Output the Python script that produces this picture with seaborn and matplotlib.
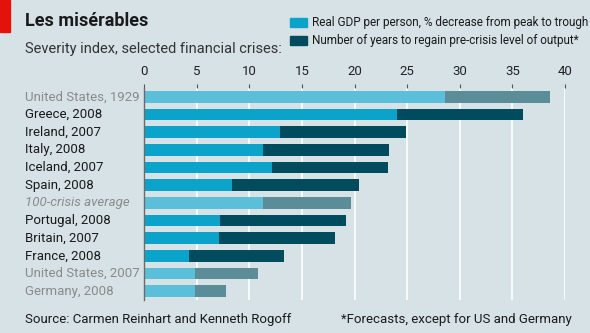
import matplotlib
matplotlib.use("Agg")
import matplotlib.pyplot as plt
import seaborn as sns
import pandas as pd
from matplotlib.patches import Rectangle

labels = ["United States, 1929", "Greece, 2008", "Ireland, 2007", "Italy, 2008",
          "Iceland, 2007", "Spain, 2008", "100-crisis average", "Portugal, 2008",
          "Britain, 2007", "France, 2008", "United States, 2007", "Germany, 2008"]
gdp_decrease = [28.6, 24.0, 12.9, 11.3, 12.2, 8.4, 11.3, 7.2, 7.1, 4.3, 4.8, 4.8]
years_to_regain = [10, 12, 12, 12, 11, 12, 8.4, 12, 11, 9, 6, 3]
muted = [True, False, False, False, False, False, True, False, False, False, True, True]
xticks = [0, 5, 10, 15, 20, 25, 30, 35, 40]

BG = "#d7e2e7"
BRIGHT = "#0ba3ca"
DARK = "#004b5d"
BRIGHT_M = "#5cbfd9"
DARK_M = "#5b8d98"

sns.set_theme(style="white")
plt.rcParams['font.family'] = ['Roboto', 'DejaVu Sans']

df = pd.DataFrame({"label": labels, "gdp": gdp_decrease,
                   "total": [g + y for g, y in zip(gdp_decrease, years_to_regain)]})

fig = plt.figure(figsize=(5.9, 3.33), dpi=100, facecolor=BG)
ax = fig.add_axes([144/590, 1-300/333, (565-144)/590, (300-88)/333])
ax.set_facecolor(BG)

pal_total = {l: (DARK_M if m else DARK) for l, m in zip(labels, muted)}
pal_gdp = {l: (BRIGHT_M if m else BRIGHT) for l, m in zip(labels, muted)}

for xt in xticks:
    ax.axvline(xt, color="white", lw=1.2, zorder=0)

sns.barplot(data=df, x="total", y="label", hue="label", palette=pal_total,
            legend=False, width=0.66, ax=ax, saturation=1, zorder=2, linewidth=0)
sns.barplot(data=df, x="gdp", y="label", hue="label", palette=pal_gdp,
            legend=False, width=0.66, ax=ax, saturation=1, zorder=3, linewidth=0)

ax.set_xlim(0, 40)
ax.set_ylim(11.5, -0.5)
ax.set_xlabel("")
ax.set_ylabel("")
for s in ["top", "right", "bottom"]:
    ax.spines[s].set_visible(False)
ax.spines["left"].set_color("#6b6b6b")
ax.spines["left"].set_linewidth(1.0)
ax.spines["left"].set_zorder(5)

ax.xaxis.tick_top()
ax.set_xticks(xticks)
ax.set_xticklabels([str(x) for x in xticks], fontsize=9.5, color="#222222")
ax.tick_params(axis="x", length=3, width=0.8, color="#555555", pad=4)
ax.tick_params(axis="y", length=0)
ax.set_yticklabels([])

for i, (lab, m) in enumerate(zip(labels, muted)):
    style = "italic" if lab.startswith("100") else "normal"
    col = "#8a8a8a" if m else "#1a1a1a"
    ax.text(-119/10.525, i, lab, ha="left", va="center", fontsize=9.5,
            color=col, style=style, transform=ax.transData, clip_on=False)

# Header
fig.patches.append(Rectangle((0, 1-32/333), 10/590, 32/333, transform=fig.transFigure,
                             color="#e3120b", zorder=5))
fig.text(25/590, 1-26/333, "Les misérables", fontsize=13, fontweight="bold",
         color="#1a1a1a", va="baseline")
fig.text(25/590, 1-53/333, "Severity index, selected financial crises:", fontsize=10.5,
         color="#333333", va="baseline")

# Legend
for yy, col, txt in [(18, BRIGHT, "Real GDP per person, % decrease from peak to trough"),
                     (36, DARK, "Number of years to regain pre-crisis level of output*")]:
    fig.patches.append(Rectangle((290/590, 1-(yy+9)/333), 17/590, 9/333,
                                 transform=fig.transFigure, color=col))
    fig.text(312/590, 1-(yy+4.5)/333, txt, fontsize=8.5, color="#1a1a1a", va="center")

# Footer
fig.text(25/590, 1-319/333, "Source: Carmen Reinhart and Kenneth Rogoff", fontsize=9.5,
         color="#1a1a1a", va="center")
fig.text(572/590, 1-319/333, "*Forecasts, except for US and Germany", fontsize=9.5,
         color="#1a1a1a", va="center", ha="right")

fig.savefig("out.png", dpi=100, facecolor=BG)
